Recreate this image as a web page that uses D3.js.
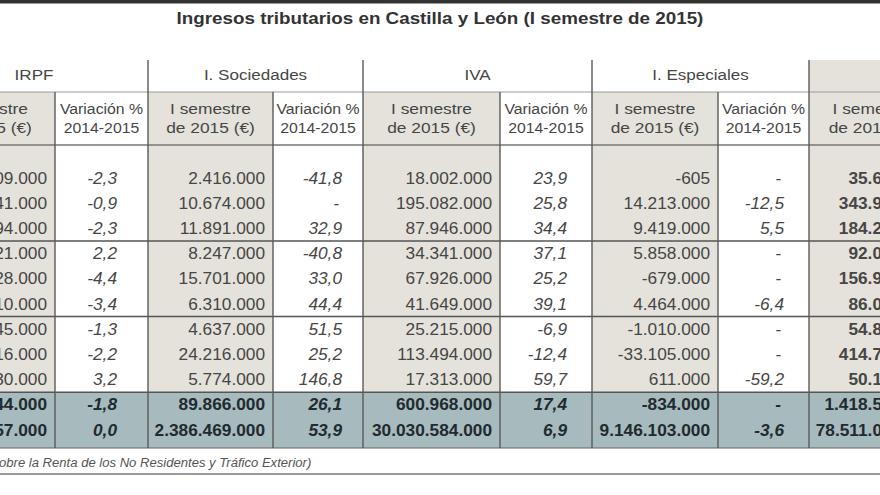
<!DOCTYPE html>
<html><head><meta charset="utf-8">
<script src="https://cdn.jsdelivr.net/npm/d3@7"></script>
<style>
html,body{margin:0;padding:0;background:#fff;}
svg{display:block;font-family:"Liberation Sans",Arial,sans-serif;}
</style></head><body>
<svg id="chart" width="880" height="495"></svg>
<script>
// ---------- data ----------
const title = "Ingresos tributarios en Castilla y León (I semestre de 2015)";
const footnote = "obre la Renta de los No Residentes y Tráfico Exterior)";
const groupNames = ["IRPF", "I. Sociedades", "IVA", "I. Especiales", ""];
const headAmount = ["I semestre", "de 2015 (€)"];
const headVariation = ["Variación %", "2014-2015"];

const irpfAmount = ["09.000","41.000","94.000","21.000","28.000","10.000","45.000","16.000","30.000","44.000","57.000"];
const irpfVar = ["-2,3","-0,9","-2,3","2,2","-4,4","-3,4","-1,3","-2,2","3,2","-1,8","0,0"];
const sociedadesAmount = ["2.416.000","10.674.000","11.891.000","8.247.000","15.701.000","6.310.000","4.637.000","24.216.000","5.774.000","89.866.000","2.386.469.000"];
const sociedadesVar = ["-41,8","-","32,9","-40,8","33,0","44,4","51,5","25,2","146,8","26,1","53,9"];
const ivaAmount = ["18.002.000","195.082.000","87.946.000","34.341.000","67.926.000","41.649.000","25.215.000","113.494.000","17.313.000","600.968.000","30.030.584.000"];
const ivaVar = ["23,9","25,8","34,4","37,1","25,2","39,1","-6,9","-12,4","59,7","17,4","6,9"];
const especialesAmount = ["-605","14.213.000","9.419.000","5.858.000","-679.000","4.464.000","-1.010.000","-33.105.000","611.000","-834.000","9.146.103.000"];
const especialesVar = ["-","-12,5","5,5","-","-","-6,4","-","-","-59,2","-","-3,6"];
const totalAmount = ["35.6","343.9","184.2","92.0","156.9","86.0","54.8","414.7","50.1","1.418.5","78.511.0"];
const rowBlock = [0,0,0,1,1,1,2,2,2,3,3]; // block 3 = summary rows

// ---------- layout ----------
const W = 880, H = 495;
const svg = d3.select("#chart");
const colWidths = [135, 93, 125, 90, 137, 92, 126, 91, 128];
const tableLeft = -80;
const edges = [tableLeft, ...Array.from(d3.cumsum(colWidths), v => v + tableLeft)];
const colKind = ["amount","var","amount","var","amount","var","amount","var","total"];
const varPad = [null, 31, null, 21, null, 25, null, 25, null];
const columns = [irpfAmount, irpfVar, sociedadesAmount, sociedadesVar, ivaAmount, ivaVar, especialesAmount, especialesVar, totalAmount];

const yTop = 60, yHead2 = 92, yHeadEnd = 145;
const y = d3.scaleBand().domain(d3.range(rowBlock.length)).range([165.4, 442.6]).paddingInner(0);
const ySumTop = y(rowBlock.indexOf(3));
const yBottom = y.range()[1] + 5.4;

const SX = 1.08; // horizontal stretch of the original artwork
const grayFill = "#e4e2da", sumFill = "#a7babd";
const txt = "#464646", sumTxt = "#1f2b2f";

function label(g, x, yy, s, o = {}) {
  return g.append("text")
    .attr("transform", `translate(${x},${yy}) scale(${o.sx || SX},1)`)
    .attr("dy", "0.35em")
    .attr("text-anchor", o.anchor || "middle")
    .attr("font-size", o.size || 16)
    .attr("font-weight", o.bold ? "bold" : "normal")
    .attr("font-style", o.italic ? "italic" : "normal")
    .attr("fill", o.fill || txt)
    .text(s);
}

// top border
svg.append("rect").attr("x", 0).attr("y", 0).attr("width", W).attr("height", 3).attr("fill", "#333");
svg.append("rect").attr("x", 0).attr("y", 3).attr("width", W).attr("height", 1).attr("fill", "#999");

// title
label(svg, W / 2, 18, title, {bold: true, size: 16.8, fill: "#333", sx: 1.12});

// backgrounds
const bg = svg.append("g");
colKind.forEach((k, i) => {
  if (k === "var") return;
  const top = k === "total" ? yTop : yHead2;
  bg.append("rect").attr("x", edges[i]).attr("y", top)
    .attr("width", edges[i + 1] - edges[i]).attr("height", ySumTop - top).attr("fill", grayFill);
});
bg.append("rect").attr("x", 0).attr("y", ySumTop).attr("width", W).attr("height", yBottom - ySumTop).attr("fill", sumFill);

// lines
const lines = svg.append("g").attr("fill", "none");
lines.append("line").attr("x1", 0).attr("x2", W).attr("y1", yHead2).attr("y2", yHead2).attr("stroke", "#9a9a9a").attr("stroke-width", 1.2);
lines.append("line").attr("x1", 0).attr("x2", W).attr("y1", yHeadEnd).attr("y2", yHeadEnd).attr("stroke", "#777").attr("stroke-width", 1.6);
[1, 2, 3].forEach(b => {
  const yy = y(rowBlock.indexOf(b));
  lines.append("line").attr("x1", 0).attr("x2", W).attr("y1", yy).attr("y2", yy).attr("stroke", "#555").attr("stroke-width", 1.5);
});
lines.append("line").attr("x1", 0).attr("x2", W).attr("y1", yBottom).attr("y2", yBottom).attr("stroke", "#666").attr("stroke-width", 1.2);
edges.slice(1, -1).forEach((x, i) => {
  const groupEdge = (i % 2) === 1;
  lines.append("line").attr("x1", x).attr("x2", x)
    .attr("y1", groupEdge ? yTop : yHead2).attr("y2", yBottom)
    .attr("stroke", "#5a5a5a").attr("stroke-width", 1.4);
});

// group headers
const hg = svg.append("g");
groupNames.forEach((n, gi) => {
  if (!n) return;
  const x0 = edges[gi * 2], x1 = edges[gi * 2 + 2];
  label(hg, (x0 + x1) / 2, 75, n, {size: 15.5, sx: 1.1});
});
// sub headers
colKind.forEach((k, i) => {
  const cx = (edges[i] + edges[i + 1]) / 2;
  const lines2 = k === "var" ? headVariation : headAmount;
  const sx = k === "var" ? 1.02 : 1.12;
  label(hg, cx, 109, lines2[0], {size: 15.5, sx});
  label(hg, cx, 128, lines2[1], {size: 15.5, sx});
});

// cells
const cg = svg.append("g");
columns.forEach((vals, ci) => {
  const k = colKind[ci];
  vals.forEach((v, ri) => {
    const sum = rowBlock[ri] === 3;
    const yy = y(ri) + y.bandwidth() / 2;
    const opt = {size: 16, fill: sum ? sumTxt : txt, bold: sum || k === "total", italic: k === "var"};
    if (k === "total") {
      label(cg, W + 2, yy, v, {...opt, anchor: "end"});
    } else if (k === "var") {
      const xr = edges[ci + 1] - varPad[ci];
      if (v === "-") label(cg, xr - 6, yy, v, {...opt, anchor: "middle"});
      else label(cg, xr, yy, v, {...opt, anchor: "end"});
    } else {
      label(cg, edges[ci + 1] - 8, yy, v, {...opt, anchor: "end"});
    }
  });
});

// footnote
label(svg, -1, 462, footnote, {anchor: "start", italic: true, size: 13.5, fill: "#555", sx: 0.97});
svg.append("rect").attr("x", 0).attr("y", 473).attr("width", W).attr("height", 2).attr("fill", "#9a9a9a");
</script>
</body></html>
